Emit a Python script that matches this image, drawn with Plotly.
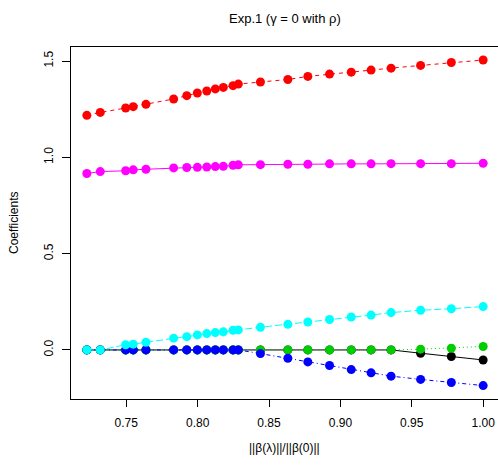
import plotly.graph_objects as go

ratio = [0.7224, 0.7318, 0.7496, 0.7549, 0.7638, 0.7832, 0.7924, 0.7998, 0.8064, 0.8124,
         0.8180, 0.8248, 0.8285, 0.8440, 0.8632, 0.8772, 0.8924, 0.9076, 0.9215, 0.9355,
         0.9562, 0.9777, 1.0000]

coef_black = [0, 0, 0, 0, 0, 0, 0, 0, 0, 0, 0, 0, 0, 0, 0, 0, 0, 0, 0, 0,
              -0.017, -0.034, -0.052]
coef_red = [1.218, 1.233, 1.256, 1.263, 1.275, 1.303, 1.320, 1.334, 1.344, 1.355,
            1.363, 1.372, 1.380, 1.391, 1.404, 1.420, 1.432, 1.442, 1.453, 1.463,
            1.477, 1.492, 1.505]
coef_green = [0, 0, 0, 0, 0, 0, 0, 0, 0, 0, 0, 0, 0, 0, 0, 0, 0, 0, 0, 0,
              0.004, 0.009, 0.018]
coef_blue = [0, 0, 0, 0, 0, 0, 0, 0, 0, 0, 0, 0, 0, -0.019, -0.043, -0.062, -0.081,
             -0.102, -0.119, -0.136, -0.153, -0.169, -0.185]
coef_cyan = [0, 0, 0.027, 0.030, 0.040, 0.061, 0.069, 0.078, 0.085, 0.090, 0.094,
             0.102, 0.104, 0.118, 0.133, 0.145, 0.158, 0.171, 0.181, 0.194, 0.206,
             0.214, 0.225]
coef_magenta = [0.916, 0.926, 0.930, 0.935, 0.938, 0.945, 0.947, 0.948, 0.950, 0.952,
                0.953, 0.959, 0.961, 0.962, 0.964, 0.964, 0.966, 0.966, 0.966, 0.967,
                0.967, 0.967, 0.969]

x_ticks = [0.75, 0.80, 0.85, 0.90, 0.95, 1.00]
x_tick_labels = ["0.75", "0.80", "0.85", "0.90", "0.95", "1.00"]
y_ticks = [0.0, 0.5, 1.0, 1.5]
y_tick_labels = ["0.0", "0.5", "1.0", "1.5"]

series = [
    (coef_black, "#000000", "solid"),
    (coef_red, "#FF0000", "4px,4px"),
    (coef_green, "#00CD00", "1px,3px"),
    (coef_blue, "#0000FF", "1px,3px,4px,3px"),
    (coef_cyan, "#00FFFF", "7px,3px"),
    (coef_magenta, "#FF00FF", "solid"),
]

FONT = "Liberation Sans, Arial, sans-serif"

fig = go.Figure()
for vals, col, dash in series:
    fig.add_trace(go.Scatter(
        x=ratio, y=vals, mode="lines+markers",
        line=dict(color=col, width=1, dash=dash),
        marker=dict(color=col, size=9, line=dict(width=0)),
        showlegend=False, hoverinfo="skip", cliponaxis=False,
    ))

fig.update_layout(
    width=498, height=465,
    margin=dict(l=71, r=0, t=47, b=66, autoexpand=False),
    paper_bgcolor="white", plot_bgcolor="white",
    font=dict(family=FONT, size=12, color="black"),
    showlegend=False,
    xaxis=dict(range=[0.7113, 1.0104], tickvals=x_ticks, ticktext=x_tick_labels,
               showgrid=False, zeroline=False, showline=True, mirror=True,
               linecolor="black", linewidth=1, ticks="outside", ticklen=7,
               tickcolor="black", tickfont=dict(size=12, family=FONT),
               ticklabelstandoff=6, automargin=False),
    yaxis=dict(range=[-0.2547, 1.5727], tickvals=y_ticks, ticktext=y_tick_labels,
               showgrid=False, zeroline=False, showline=True, mirror=True,
               linecolor="black", linewidth=1, ticks="outside", ticklen=8,
               tickcolor="black", tickangle=-90, tickfont=dict(size=12, family=FONT),
               ticklabelstandoff=4, automargin=False),
    annotations=[
        dict(text="Exp.1 (\u03b3 = 0 with \u03c1)", x=0.5, y=1, xref="paper", yref="paper",
             xanchor="center", yanchor="middle", yshift=29, showarrow=False,
             font=dict(size=13, family=FONT)),
        dict(text="||\u03b2(\u03bb)||/||\u03b2(0)||", x=0.5, y=0, xref="paper", yref="paper",
             xanchor="center", yanchor="middle", yshift=-49, showarrow=False,
             font=dict(size=12, family=FONT)),
        dict(text="Coefficients", x=0, y=0.5, xref="paper", yref="paper",
             xanchor="center", yanchor="middle", xshift=-57, textangle=-90,
             showarrow=False, font=dict(size=12, family=FONT)),
    ],
)

fig.write_html(
    "out.html",
    config={"displayModeBar": False, "staticPlot": True},
    post_script="document.body.style.margin='0';document.body.style.overflow='hidden';",
)
